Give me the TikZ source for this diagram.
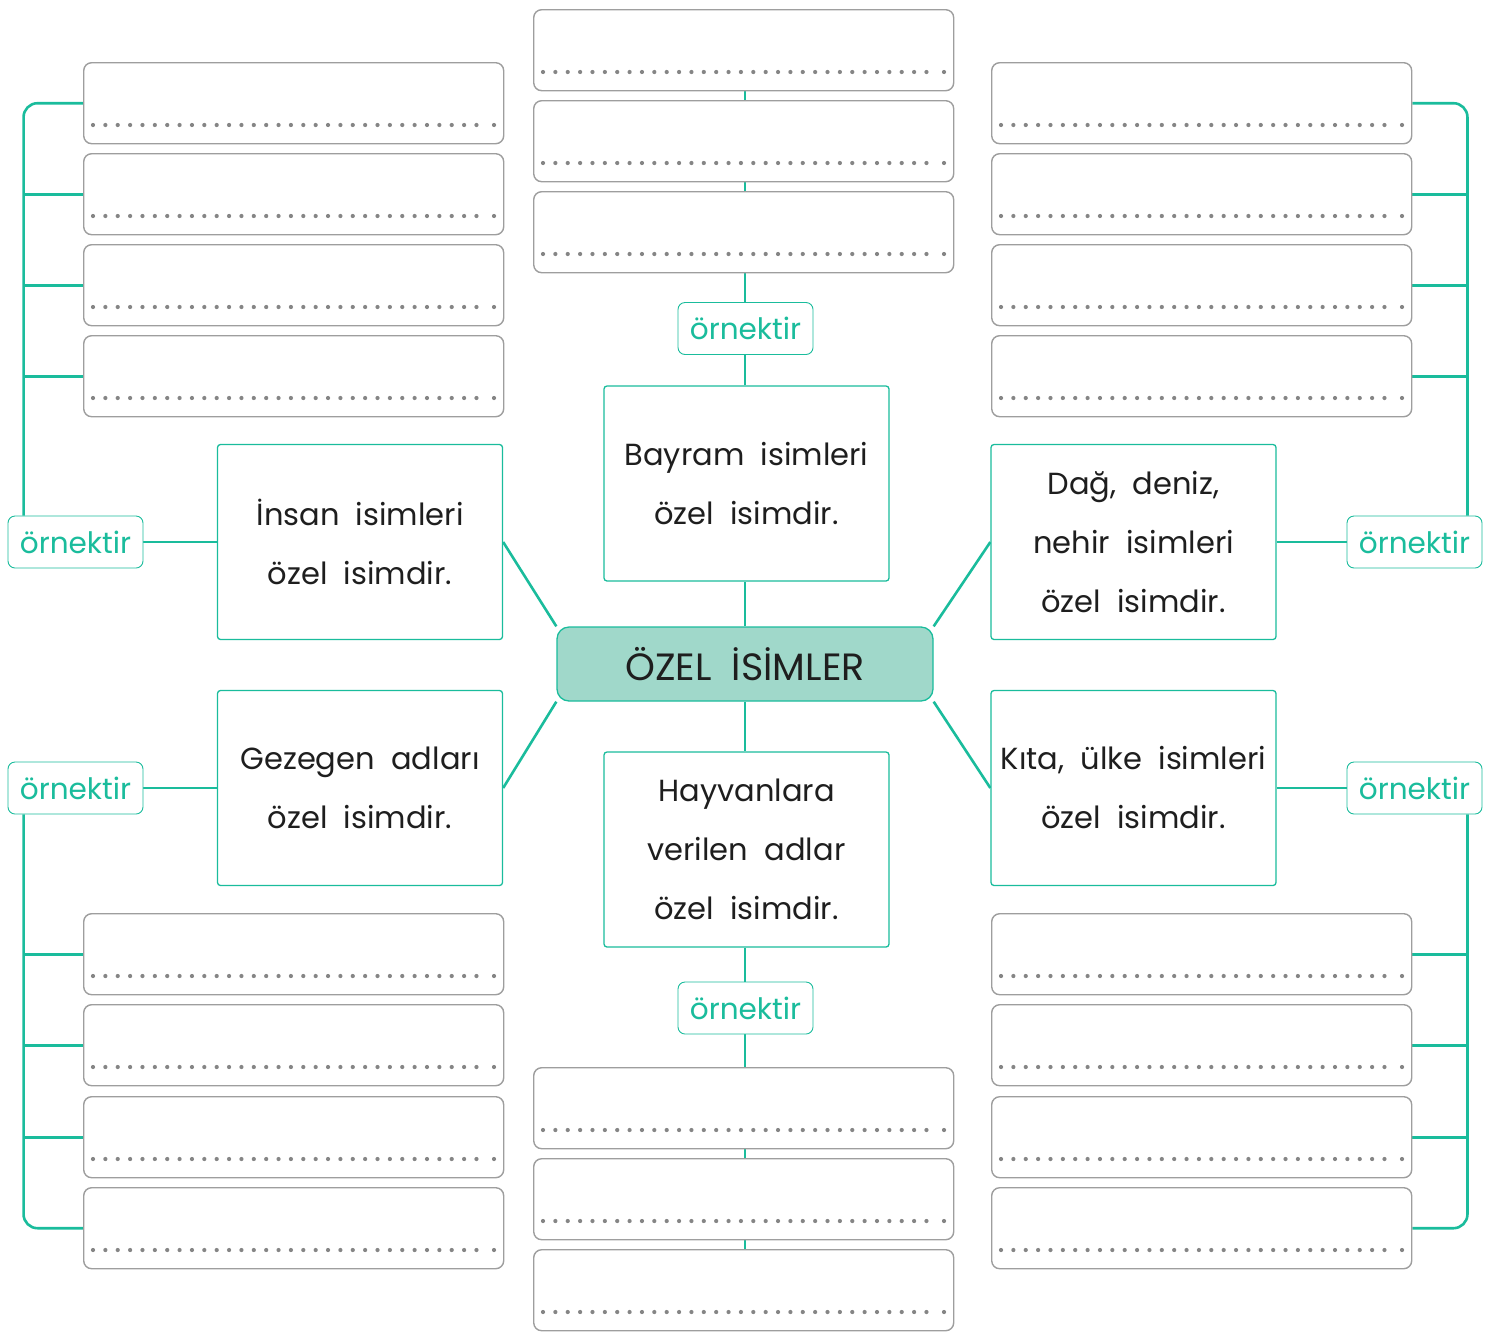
\documentclass[tikz,border=0pt]{standalone}
\usepackage{fontspec}
\setmainfont{Poppins}[WordSpace=2]
\usetikzlibrary{backgrounds}
\definecolor{tealc}{HTML}{1ABC9C}
\definecolor{centerfill}{HTML}{A0D8CA}
\definecolor{boxgray}{HTML}{9E9E9E}
\definecolor{dotc}{HTML}{858585}
\definecolor{textc}{HTML}{1E1E1E}
\tikzset{
  dotbox/.style={draw=boxgray, line width=1.4pt, rounded corners=8pt, fill=white,
    minimum width=420pt, minimum height=81pt, inner sep=0pt, anchor=north west},
  concept/.style={draw=tealc, line width=1.3pt, rounded corners=3pt, fill=white,
    minimum width=285pt, minimum height=195pt, inner sep=0pt, align=center,
    text=textc, font=\fontsize{30.5}{59}\selectfont},
  centerbox/.style={draw=tealc, line width=1.3pt, rounded corners=12pt, fill=centerfill,
    minimum width=376pt, minimum height=74pt, inner sep=0pt, text=textc,
    font=\fontsize{38}{42}\selectfont},
  ornbox/.style={draw=tealc, line width=0.9pt, rounded corners=7pt, fill=white,
    minimum width=135pt, minimum height=52pt, inner sep=0pt, text=tealc,
    font=\fontsize{29.5}{32}\selectfont},
  conn/.style={draw=tealc, line width=2.6pt},
}
\newcommand\dotbox[3]{%
  \node[dotbox] (#1) at (#2,#3) {};
  \foreach \i in {0,...,31} \fill[dotc] (#2+10+12.37*\i, #3+63) circle[radius=2.1pt];
  \fill[dotc] (#2+411, #3+63) circle[radius=2.1pt];
}
\begin{document}
\begin{tikzpicture}[x=1pt, y=-1pt]
\useasboundingbox (0,0) rectangle (1490,1331);
% dotted answer boxes
\dotbox{L1}{83}{62}
\dotbox{L2}{83}{153}
\dotbox{L3}{83}{244}
\dotbox{L4}{83}{335}
\dotbox{T1}{533}{9}
\dotbox{T2}{533}{100}
\dotbox{T3}{533}{191}
\dotbox{R1}{991}{62}
\dotbox{R2}{991}{153}
\dotbox{R3}{991}{244}
\dotbox{R4}{991}{335}
\dotbox{L5}{83}{913}
\dotbox{L6}{83}{1004}
\dotbox{L7}{83}{1096}
\dotbox{L8}{83}{1187}
\dotbox{B1}{533}{1067}
\dotbox{B2}{533}{1158}
\dotbox{B3}{533}{1249}
\dotbox{R5}{991}{913}
\dotbox{R6}{991}{1004}
\dotbox{R7}{991}{1096}
\dotbox{R8}{991}{1187}
% center
\node[centerbox] (C) at (745,664) {ÖZEL İSİMLER};
% concept boxes
\node[concept] (Bay) at (746.5,483.5) {Bayram isimleri\\özel isimdir.};
\node[concept] (Ins) at (360,542) {İnsan isimleri\\özel isimdir.};
\node[concept] (Dag) at (1133.5,542) {Dağ, deniz,\\nehir isimleri\\özel isimdir.};
\node[concept] (Gez) at (360,788) {Gezegen adları\\özel isimdir.};
\node[concept] (Hay) at (746.5,849.5) {Hayvanlara\\verilen adlar\\özel isimdir.};
\node[concept] (Kit) at (1133.5,788) {Kıta, ülke isimleri\\özel isimdir.};
% örnektir labels
\node[ornbox] (OT) at (745.5,328.5) {örnektir};
\node[ornbox] (OB) at (745.5,1008) {örnektir};
\node[ornbox] (OL1) at (75.5,542) {örnektir};
\node[ornbox] (OL2) at (75.5,788) {örnektir};
\node[ornbox] (OR1) at (1414.5,542) {örnektir};
\node[ornbox] (OR2) at (1414.5,788) {örnektir};
\coordinate (lx1) at ([xshift=16pt]OL1.north west);
\coordinate (lx2) at ([xshift=16pt]OL2.south west);
\coordinate (rx1) at ([xshift=-15pt]OR1.north east);
\coordinate (rx2) at ([xshift=-15pt]OR2.south east);
\coordinate (cx) at (745,0);
\begin{pgfonlayer}{background}
% vertical spine top
\draw[conn] (C.north -| cx) -- (Bay.south -| cx);
\draw[conn] (Bay.north -| cx) -- (OT.south -| cx);
\draw[conn] (OT.north -| cx) -- (T3.south -| cx);
\draw[conn] (T3.north -| cx) -- (T2.south -| cx);
\draw[conn] (T2.north -| cx) -- (T1.south -| cx);
% vertical spine bottom
\draw[conn] (C.south -| cx) -- (Hay.north -| cx);
\draw[conn] (Hay.south -| cx) -- (OB.north -| cx);
\draw[conn] (OB.south -| cx) -- (B1.north -| cx);
\draw[conn] (B1.south -| cx) -- (B2.north -| cx);
\draw[conn] (B2.south -| cx) -- (B3.north -| cx);
% diagonals
\draw[conn] (Ins.east) -- (C.north west);
\draw[conn] (Gez.east) -- (C.south west);
\draw[conn] (Dag.west) -- (C.north east);
\draw[conn] (Kit.west) -- (C.south east);
% concept to örnektir
\draw[conn] (Ins.west) -- (OL1.east);
\draw[conn] (Gez.west) -- (OL2.east);
\draw[conn] (Dag.east) -- (OR1.west);
\draw[conn] (Kit.east) -- (OR2.west);
% brackets
\draw[conn, rounded corners=14pt] (lx1) |- (L1.west);
\draw[conn] (L2.west -| lx1) -- (L2.west);
\draw[conn] (L3.west -| lx1) -- (L3.west);
\draw[conn] (L4.west -| lx1) -- (L4.west);
\draw[conn, rounded corners=14pt] (lx2) |- (L8.west);
\draw[conn] (L5.west -| lx2) -- (L5.west);
\draw[conn] (L6.west -| lx2) -- (L6.west);
\draw[conn] (L7.west -| lx2) -- (L7.west);
\draw[conn, rounded corners=14pt] (rx1) |- (R1.east);
\draw[conn] (R2.east -| rx1) -- (R2.east);
\draw[conn] (R3.east -| rx1) -- (R3.east);
\draw[conn] (R4.east -| rx1) -- (R4.east);
\draw[conn, rounded corners=14pt] (rx2) |- (R8.east);
\draw[conn] (R5.east -| rx2) -- (R5.east);
\draw[conn] (R6.east -| rx2) -- (R6.east);
\draw[conn] (R7.east -| rx2) -- (R7.east);
\end{pgfonlayer}
\end{tikzpicture}
\end{document}
